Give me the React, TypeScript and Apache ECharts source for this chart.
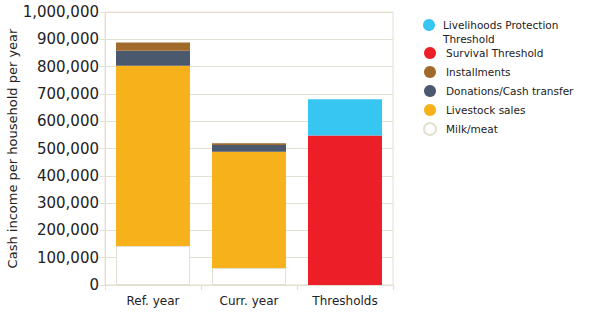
import React, { useEffect, useRef } from "react";
import * as echarts from "echarts";

const categories = ["Ref. year", "Curr. year", "Thresholds"];
const milkMeat = [143000, 62000, null];
const livestockSales = [660000, 426000, null];
const donationsCash = [55000, 25000, null];
const installments = [30000, 6000, null];
const survivalThreshold = [null, null, 548000];
const livelihoodsProtection = [null, null, 132000];

const FONT = "DejaVu Sans";
const GRID = "#e4e0d1";
const TEXT = "#222222";

export default function App() {
  const ref = useRef<HTMLDivElement>(null);
  useEffect(() => {
    if (!ref.current) return;
    const chart = echarts.init(ref.current, undefined, { renderer: "svg" });
    const mk = (name: string, data: (number | null)[], color: string, extra: any = {}) => ({
      name,
      type: "bar",
      stack: "total",
      barWidth: 74,
      data,
      itemStyle: { color, ...extra },
      emphasis: { disabled: true },
    });
    chart.setOption({
      animation: false,
      textStyle: { fontFamily: FONT },
      grid: {
        left: 105,
        right: 199,
        top: 12,
        bottom: 30,
        show: true,
        borderColor: GRID,
        borderWidth: 1,
      },
      legend: [
        {
          data: ["Livelihoods Protection Threshold"],
          orient: "vertical",
          left: 423,
          top: 4,
          padding: 0,
          icon: "circle",
          itemWidth: 12,
          itemHeight: 12,
          selectedMode: false,
          formatter: () => "\nLivelihoods Protection\nThreshold",
          textStyle: { fontFamily: FONT, fontSize: 10.5, color: TEXT, lineHeight: 14, padding: [0, 0, 0, 3] },
        },
        {
          data: ["Survival Threshold", "Installments", "Donations/Cash transfer", "Livestock sales", "Milk/meat"],
          orient: "vertical",
          left: 423,
          top: 46,
          padding: 0,
          itemGap: 5,
          icon: "circle",
          itemWidth: 12,
          itemHeight: 12,
          selectedMode: false,
          textStyle: { fontFamily: FONT, fontSize: 10.5, color: TEXT, lineHeight: 14, padding: [0, 0, 0, 5] },
        },
      ],
      xAxis: {
        type: "category",
        data: categories,
        axisLine: { lineStyle: { color: GRID } },
        axisTick: { show: true, length: 5, lineStyle: { color: GRID } },
        axisLabel: { fontFamily: FONT, fontSize: 12, color: TEXT, margin: 10 },
      },
      yAxis: {
        type: "value",
        min: 0,
        max: 1000000,
        interval: 100000,
        name: "Cash income per household per year",
        nameLocation: "middle",
        nameGap: 85,
        nameTextStyle: { fontFamily: FONT, fontSize: 13, color: TEXT },
        axisLine: { show: true, lineStyle: { color: GRID } },
        axisTick: { show: true, length: 5, lineStyle: { color: GRID } },
        splitLine: { show: true, lineStyle: { color: GRID } },
        axisLabel: {
          fontFamily: FONT,
          fontSize: 15,
          color: TEXT,
          margin: 6,
          formatter: (v: number) => v.toLocaleString("en-US"),
        },
      },
      series: [
        mk("Milk/meat", milkMeat, "#ffffff", { borderColor: GRID, borderWidth: 1 }),
        mk("Livestock sales", livestockSales, "#F7B11B"),
        mk("Donations/Cash transfer", donationsCash, "#4A596D"),
        mk("Installments", installments, "#A06A2B"),
        mk("Survival Threshold", survivalThreshold, "#EC1F28"),
        mk("Livelihoods Protection Threshold", livelihoodsProtection, "#37C6F2"),
      ],
    });
    return () => chart.dispose();
  }, []);
  return <div ref={ref} style={{ width: 592, height: 315, position: "absolute", left: 0, top: 0 }} />;
}
